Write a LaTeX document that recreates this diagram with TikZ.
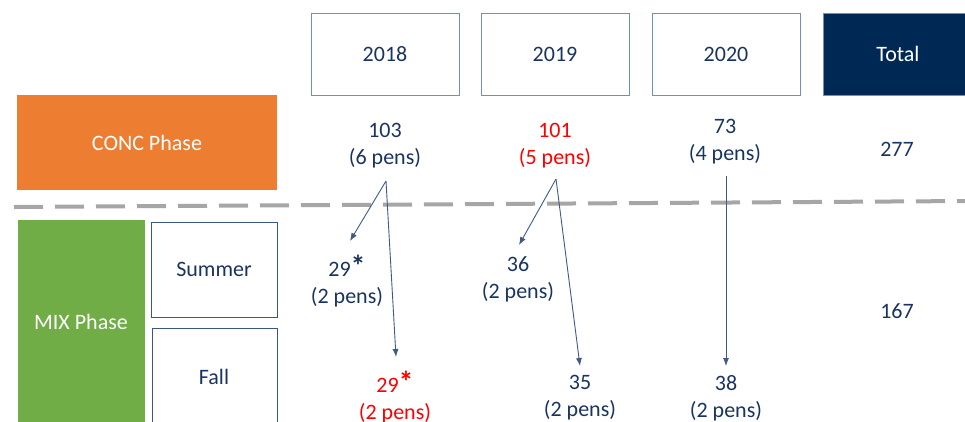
\documentclass[tikz,border=0pt]{standalone}
\usepackage{fontspec}
\setmainfont{Carlito}
\usetikzlibrary{arrows.meta}
\definecolor{navytxt}{HTML}{1A3462}
\definecolor{navyfill}{HTML}{002855}
\definecolor{orng}{HTML}{ED7D31}
\definecolor{grn}{HTML}{70AD47}
\definecolor{yearline}{HTML}{6F8FBF}
\definecolor{seasonline}{HTML}{3A5683}
\definecolor{arrowc}{HTML}{3F5A88}
\definecolor{dashc}{HTML}{A6A6A6}
\definecolor{redt}{HTML}{FF0000}
\newcommand{\myast}{\raisebox{0pt}{\fontsize{30}{27}\selectfont\textbf{*}}}
\begin{document}
\begin{tikzpicture}[x=1pt,y=-1pt,
  every node/.style={font=\fontsize{22}{27}\selectfont, text=navytxt, inner sep=0pt},
  yearbox/.style={draw=yearline, line width=1pt, fill=white, minimum width=148pt, minimum height=82pt},
  seasonbox/.style={draw=seasonline, line width=1pt, fill=white},
  phasebox/.style={text=white, draw=none},
  val/.style={align=center},
  redval/.style={align=center, text=redt},
  flow/.style={draw=arrowc, line width=0.9pt, -{Latex[length=8pt,width=6pt]}}
]
\useasboundingbox (0,0) rectangle (965,421);
\clip (0,0) rectangle (965,421);
\fill[white] (0,0) rectangle (965,421);

% header boxes
\node[yearbox] (y18) at (385,54) {2018};
\node[yearbox] (y19) at (555,54) {2019};
\node[yearbox] (y20) at (726,54) {2020};
\node[draw=yearline, line width=1pt, fill=navyfill, text=white, minimum width=150pt, minimum height=82pt] (tot) at (898,54) {Total};

% phase boxes
\node[phasebox, fill=orng, minimum width=260pt, minimum height=95pt] (conc) at (147,142.5) {CONC Phase};
\node[phasebox, fill=grn, minimum width=127pt, minimum height=210pt] (mix) at (81.5,325) {};
\node[text=white] (mixlbl) at (81,322) {MIX Phase};
\node[seasonbox, minimum width=126pt, minimum height=95pt] (summer) at (214,269.5) {Summer};
\node[seasonbox, minimum width=125pt, minimum height=102pt] (fallbox) at (214.5,379) {};
\node (fall) at (214,377) {Fall};

% dashed separator
\coordinate (dl) at (14,207);
\coordinate (dr) at (970,201);
\draw[dashc, line width=4pt, dash pattern=on 29pt off 12pt] (dl) -- (dr);

% CONC values
\node[val] (c18) at (385,146) {103\\(6 pens)};
\node[redval] (c19) at (555,146) {101\\(5 pens)};
\node[val] (c20) at (725,142) {73\\(4 pens)};
\node (ctot) at (897,149) {277};

% MIX values
\node[val] (s18) at (347,281) {29\myast\\(2 pens)};
\node[redval] (f18) at (395,397) {29\myast\\(2 pens)};
\node[val] (s19) at (518,279) {36\\(2 pens)};
\node[val] (f19) at (580,398) {35\\(2 pens)};
\node[val] (f20) at (726,398) {38\\(2 pens)};
\node (mtot) at (897,311) {167};

% arrows
\coordinate (a18) at (386,181);
\coordinate (a19) at (556,179);
\coordinate (a20) at (726,176);
\coordinate (t18s) at (350,241);
\coordinate (t18f) at (396,357);
\coordinate (t19s) at (519,245);
\coordinate (t19f) at (580,366);
\coordinate (t20f) at (726,366);
\draw[flow] (a18) -- (t18s);
\draw[flow] (a18) -- (t18f);
\draw[flow] (a19) -- (t19s);
\draw[flow] (a19) -- (t19f);
\draw[flow] (a20) -- (t20f);
\end{tikzpicture}
\end{document}
